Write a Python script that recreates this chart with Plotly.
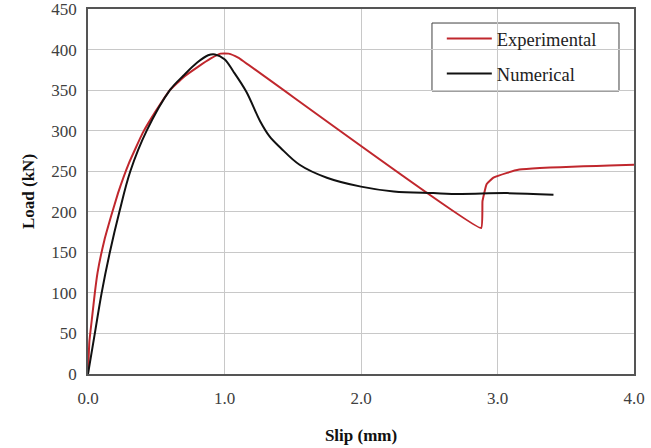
import plotly.graph_objects as go

# Experimental (red)
exp_x = [0, 0.01, 0.03, 0.05, 0.07, 0.12, 0.17, 0.22, 0.30, 0.40, 0.50, 0.60, 0.70, 0.80, 0.90, 0.97, 1.03, 1.10,
         2.88, 2.89, 2.92, 2.97, 3.07, 3.16, 3.31, 3.46, 3.63, 3.82, 4.0]
exp_y = [0, 40, 70, 100, 125, 165, 195, 223, 260, 297, 325, 350, 366, 378, 389, 395, 395, 390,
         180, 213, 234, 242, 248, 252, 254, 255, 256, 257, 258]

# Numerical (black)
num_x = [0, 0.05, 0.10, 0.16, 0.23, 0.31, 0.43, 0.60, 0.70, 0.80, 0.88, 0.93, 1.0, 1.065, 1.16, 1.26, 1.33, 1.41,
         1.55, 1.75, 2.0, 2.24, 2.53, 2.73, 3.07, 3.41]
num_y = [0, 50, 100, 150, 200, 250, 300, 350, 368, 384, 393, 394, 388, 373, 348, 312, 293, 279,
         258, 242, 231, 225, 223, 222, 223, 221]

x_ticks = [0, 1, 2, 3, 4]
y_ticks = list(range(0, 451, 50))

fig = go.Figure()
fig.add_trace(go.Scatter(x=exp_x, y=exp_y, mode="lines", name="Experimental", legendgroup="exp",
                         line=dict(color="#c0272d", width=2, shape="spline", smoothing=0.3)))
fig.add_trace(go.Scatter(x=num_x, y=num_y, mode="lines", name="Numerical", legendgroup="num",
                         line=dict(color="#111111", width=2, shape="spline", smoothing=1.0)))

# legend frame
fig.add_shape(type="rect", xref="paper", yref="paper", x0=0.630, x1=0.9725, y0=0.7753, y1=0.9616,
              line=dict(color="#404040", width=1), fillcolor="white", layer="between")

font_fam = "Liberation Serif, Times New Roman, serif"
fig.update_layout(
    width=651, height=448,
    margin=dict(l=88, r=17, t=9, b=74),
    paper_bgcolor="white", plot_bgcolor="white",
    font=dict(family=font_fam, size=17, color="#404040"),
    showlegend=True,
    legend=dict(x=0.648, y=0.970, xanchor="left", yanchor="top",
                borderwidth=0, bgcolor="rgba(0,0,0,0)",
                font=dict(family=font_fam, size=18.5, color="#222222"),
                tracegroupgap=8, itemwidth=45),
    xaxis=dict(range=[0, 4], tickvals=x_ticks, tickformat=".1f", automargin=False,
               ticklabeloverflow="allow", ticklabelstandoff=8,
               showgrid=True, gridcolor="#c8c8c8", gridwidth=1,
               showline=True, linecolor="#555555", linewidth=1.5, mirror=True,
               zeroline=False, ticks="",
               title=dict(text="<b>Slip (mm)</b>", font=dict(family=font_fam, size=17, color="#111111"), standoff=22),
               tickfont=dict(family=font_fam, size=17, color="#404040")),
    yaxis=dict(range=[0, 450], tickvals=y_ticks, automargin=False,
               ticklabeloverflow="allow", ticklabelstandoff=6,
               showgrid=True, gridcolor="#c8c8c8", gridwidth=1,
               showline=True, linecolor="#555555", linewidth=1.5, mirror=True,
               zeroline=False, ticks="",
               title=dict(text="<b>Load (kN)</b>", font=dict(family=font_fam, size=17, color="#111111"), standoff=12),
               tickfont=dict(family=font_fam, size=17, color="#404040")),
)

fig.write_html("out.html", config={"displayModeBar": False},
               post_script="document.body.style.margin='0';document.body.style.overflow='hidden';")
